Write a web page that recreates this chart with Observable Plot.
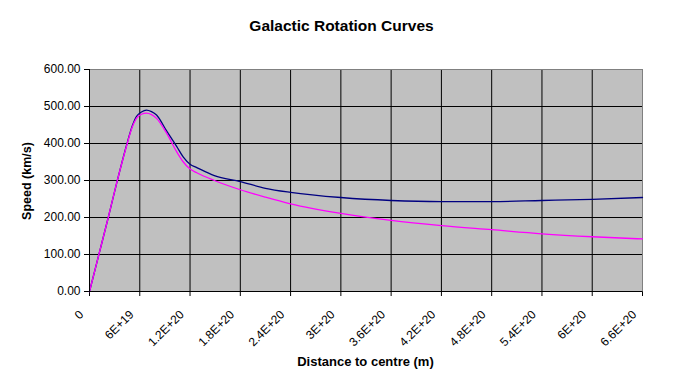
<!DOCTYPE html>
<html>
<head>
<meta charset="utf-8">
<script src="https://cdn.jsdelivr.net/npm/d3@7"></script>
<script src="https://cdn.jsdelivr.net/npm/@observablehq/plot@0.6"></script>
<style>
  body { margin: 0; background: white; }
  #wrap { position: relative; width: 683px; height: 391px; font-family: "Liberation Sans", Arial, sans-serif; }
  .t { position: absolute; font-weight: bold; color: black; white-space: nowrap; }
</style>
</head>
<body>
<div id="wrap"></div>
<script>
// Distances (m) and speeds (km/s)
const distBlue = [0, 1.12e19, 2.24e19, 3.32e19, 4.48e19, 5.08e19, 5.6e19, 6.2e19, 6.8e19, 7.4e19, 8.0e19, 9.2e19, 1.04e20, 1.12e20, 1.2e20, 1.28e20, 1.49e20, 1.8e20, 2.1e20, 2.4e20, 3.0e20, 3.6e20, 4.2e20, 4.8e20, 5.4e20, 6.0e20, 6.6e20];
const speedBlue = [0, 100, 200, 300, 400, 446, 473, 485, 490, 486, 477, 434, 392, 363, 344, 335, 313, 297, 279, 268, 254, 246, 243, 243, 246, 249, 254];
const distMagenta = [0, 1.12e19, 2.24e19, 3.32e19, 4.48e19, 5.08e19, 5.6e19, 6.2e19, 6.8e19, 7.4e19, 8.0e19, 9.2e19, 1.04e20, 1.12e20, 1.2e20, 1.28e20, 1.49e20, 1.8e20, 2.1e20, 2.4e20, 3.0e20, 3.6e20, 4.2e20, 4.8e20, 5.4e20, 6.0e20, 6.6e20];
const speedMagenta = [0, 100, 200, 300, 398, 443, 468, 479, 482, 478, 468, 428, 378, 350, 331, 321, 300, 275, 255, 237, 211, 192, 178, 167, 156, 148, 142];

const xTicks = [0, 6e19, 1.2e20, 1.8e20, 2.4e20, 3e20, 3.6e20, 4.2e20, 4.8e20, 5.4e20, 6e20, 6.6e20];
const xTickLabels = ["0", "6E+19", "1.2E+20", "1.8E+20", "2.4E+20", "3E+20", "3.6E+20", "4.2E+20", "4.8E+20", "5.4E+20", "6E+20", "6.6E+20"];
const yTicks = [0, 100, 200, 300, 400, 500, 600];

const title = "Galactic Rotation Curves";
const xTitle = "Distance to centre (m)";
const yTitle = "Speed (km/s)";

const blue = distBlue.map((d, i) => ({d, s: speedBlue[i]}));
const magenta = distMagenta.map((d, i) => ({d, s: speedMagenta[i]}));
const xLabelData = xTicks.map((d, i) => ({d, label: xTickLabels[i]}));

const chart = Plot.plot({
  width: 683,
  height: 391,
  marginLeft: 89,
  marginRight: 41,
  marginTop: 69,
  marginBottom: 100,
  style: {fontFamily: "'Liberation Sans', Arial, sans-serif", fontSize: "12px", background: "white", color: "black", overflow: "visible"},
  x: {type: "linear", domain: [0, 6.6e20], ticks: xTicks, tickFormat: () => "", tickSize: 5, label: null},
  y: {domain: [0, 600], ticks: yTicks, tickFormat: (d) => d.toFixed(2), tickSize: 5, tickPadding: 4, label: null},
  marks: [
    Plot.frame({fill: "#C0C0C0", stroke: null}),
    Plot.ruleX(xTicks.slice(1, -1), {stroke: "black", strokeWidth: 1}),
    Plot.ruleY(yTicks.slice(1, -1), {stroke: "black", strokeWidth: 1}),
    Plot.ruleY([600], {stroke: "#808080"}),
    Plot.ruleX([6.6e20], {stroke: "#808080"}),
    Plot.line(blue, {x: "d", y: "s", stroke: "#000080", strokeWidth: 1.3, curve: "monotone-x"}),
    Plot.line(magenta, {x: "d", y: "s", stroke: "#FF00FF", strokeWidth: 1.3, curve: "monotone-x"}),
    Plot.ruleX([0], {stroke: "black"}),
    Plot.ruleY([0], {stroke: "black"}),
    Plot.text(xLabelData, {x: "d", text: "label", frameAnchor: "bottom", rotate: -45, textAnchor: "end", lineAnchor: "middle", dx: -8, dy: 21, fill: "black", fontSize: 12})
  ]
});

const wrap = document.getElementById("wrap");
wrap.appendChild(chart);

function addText(txt, css) {
  const el = document.createElement("div");
  el.className = "t";
  el.textContent = txt;
  Object.assign(el.style, css);
  wrap.appendChild(el);
  return el;
}
addText(title, {left: "0", width: "683px", textAlign: "center", top: "17px", fontSize: "15.5px"});
addText(xTitle, {left: "89px", width: "553px", textAlign: "center", top: "354px", fontSize: "13px"});
addText(yTitle, {left: "27px", top: "181px", fontSize: "12.5px", transform: "translate(-50%, -50%) rotate(-90deg)"});
</script>
</body>
</html>
